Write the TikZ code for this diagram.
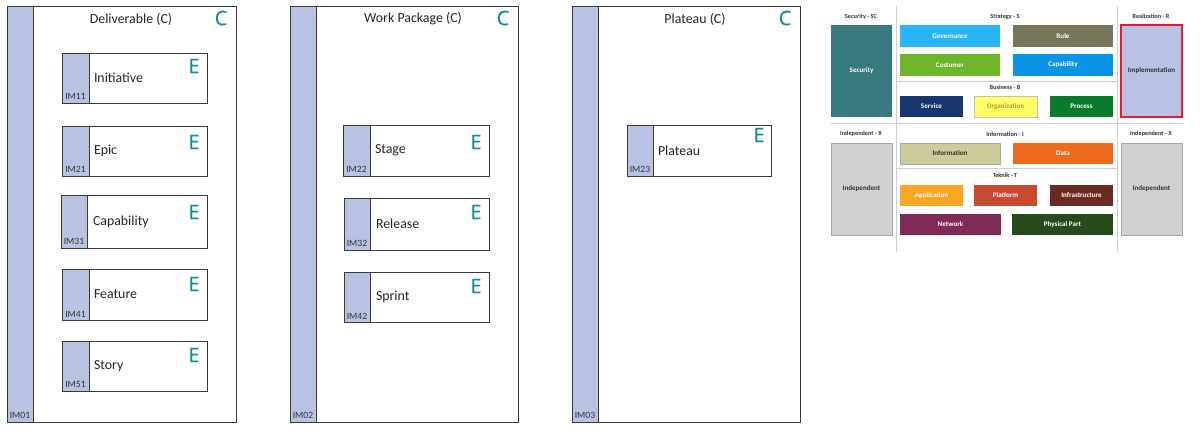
\documentclass[tikz,border=0pt]{standalone}
\usepackage{fontspec}
\setmainfont{Carlito}
\newfontfamily\letterfont[FakeBold=0.4]{Open Sans}
\usetikzlibrary{positioning}
\newcommand{\px}{0.75pt}
\definecolor{barblue}{HTML}{B9C2E2}
\definecolor{framegray}{HTML}{3A3A3A}
\definecolor{letterteal}{HTML}{0E8F9B}
\definecolor{sepgray}{HTML}{CDCFD4}

\begin{document}
\begin{tikzpicture}[x=0.75pt, y=-0.75pt,
    every node/.style={inner sep=0pt, outer sep=0pt},
    frame/.style={rectangle, draw=framegray, fill=white, line width=0.7pt, anchor=north west},
    bar/.style={rectangle, draw=framegray, fill=barblue, line width=0.7pt, anchor=north west},
    title/.style={font=\fontsize{10.4}{12}\selectfont, text=black!85},
    item/.style={font=\fontsize{10.4}{12}\selectfont, text=black!85},
    code/.style={font=\fontsize{7.2}{8}\selectfont, text=black!80},
    bigletter/.style={font=\letterfont\fontsize{15}{15}\selectfont, text=letterteal},
    head/.style={font=\bfseries\fontsize{4.7}{5.5}\selectfont, text=black!80},
    tile/.style={rectangle, anchor=north west, font=\bfseries\fontsize{5.3}{6}\selectfont, text=white},
    sep/.style={draw=sepgray, line width=0.7pt}
  ]
  \useasboundingbox (0,0) rectangle (1200,431);

  % Deliverable
  \node[frame, minimum width=229*\px, minimum height=416*\px] (deliverable) at (7,6) {};
  \node[bar, minimum width=26*\px, minimum height=416*\px] (deliverablebar) at (7,6) {};
  \node[title] (deliverabletitle) at (131,19) {Deliverable (C)};
  \node[bigletter] (deliverableC) at (221,18) {C};
  \node[code, anchor=south] (im01) at ([yshift=3*\px]deliverablebar.south) {IM01};

  \node[frame, minimum width=145*\px, minimum height=50*\px] (initiative) at (62,53) {};
  \node[bar, minimum width=27*\px, minimum height=50*\px] (initiativebar) at (62,53) {};
  \node[item, right=5*\px of initiativebar] (initiativetext) {Initiative};
  \node[bigletter] (initiativeE) at (194,66) {E};
  \node[code, anchor=south] (im11) at ([yshift=3*\px]initiativebar.south) {IM11};

  \node[frame, minimum width=145*\px, minimum height=50*\px] (epic) at (62,126) {};
  \node[bar, minimum width=27*\px, minimum height=50*\px] (epicbar) at (62,126) {};
  \node[item, right=5*\px of epicbar] (epictext) {Epic};
  \node[bigletter] (epicE) at (194,142) {E};
  \node[code, anchor=south] (im21) at ([yshift=3*\px]epicbar.south) {IM21};

  \node[frame, minimum width=146*\px, minimum height=53*\px] (capability) at (61,195) {};
  \node[bar, minimum width=26*\px, minimum height=53*\px] (capabilitybar) at (61,195) {};
  \node[item, right=6*\px of capabilitybar] (capabilitytext) {Capability};
  \node[bigletter] (capabilityE) at (194,212) {E};
  \node[code, anchor=south] (im31) at ([yshift=3*\px]capabilitybar.south) {IM31};

  \node[frame, minimum width=145*\px, minimum height=51*\px] (feature) at (62,269) {};
  \node[bar, minimum width=27*\px, minimum height=51*\px] (featurebar) at (62,269) {};
  \node[item, right=5*\px of featurebar] (featuretext) {Feature};
  \node[bigletter] (featureE) at (194,284) {E};
  \node[code, anchor=south] (im41) at ([yshift=3*\px]featurebar.south) {IM41};

  \node[frame, minimum width=145*\px, minimum height=50*\px] (story) at (62,341) {};
  \node[bar, minimum width=27*\px, minimum height=50*\px] (storybar) at (62,341) {};
  \node[item, right=5*\px of storybar] (storytext) {Story};
  \node[bigletter] (storyE) at (194,355) {E};
  \node[code, anchor=south] (im51) at ([yshift=3*\px]storybar.south) {IM51};

  % Work Package
  \node[frame, minimum width=228*\px, minimum height=416*\px] (workpackage) at (290,6) {};
  \node[bar, minimum width=26*\px, minimum height=416*\px] (workpackagebar) at (290,6) {};
  \node[title] (workpackagetitle) at (413,19) {Work Package (C)};
  \node[bigletter] (workpackageC) at (503,18) {C};
  \node[code, anchor=south] (im02) at ([yshift=3*\px]workpackagebar.south) {IM02};

  \node[frame, minimum width=146*\px, minimum height=51*\px] (stage) at (343,125) {};
  \node[bar, minimum width=27*\px, minimum height=51*\px] (stagebar) at (343,125) {};
  \node[item, right=5*\px of stagebar] (stagetext) {Stage};
  \node[bigletter] (stageE) at (476,142) {E};
  \node[code, anchor=south] (im22) at ([yshift=3*\px]stagebar.south) {IM22};

  \node[frame, minimum width=145*\px, minimum height=52*\px] (release) at (344,198) {};
  \node[bar, minimum width=26*\px, minimum height=52*\px] (releasebar) at (344,198) {};
  \node[item, right=6*\px of releasebar] (releasetext) {Release};
  \node[bigletter] (releaseE) at (476,212) {E};
  \node[code, anchor=south] (im32) at ([yshift=3*\px]releasebar.south) {IM32};

  \node[frame, minimum width=145*\px, minimum height=50*\px] (sprint) at (344,272) {};
  \node[bar, minimum width=26*\px, minimum height=50*\px] (sprintbar) at (344,272) {};
  \node[item, right=6*\px of sprintbar] (sprinttext) {Sprint};
  \node[bigletter] (sprintE) at (476,286) {E};
  \node[code, anchor=south] (im42) at ([yshift=3*\px]sprintbar.south) {IM42};

  % Plateau
  \node[frame, minimum width=228*\px, minimum height=416*\px] (plateau) at (572,6) {};
  \node[bar, minimum width=26*\px, minimum height=416*\px] (plateaubar) at (572,6) {};
  \node[title] (plateautitle) at (695,19) {Plateau (C)};
  \node[bigletter] (plateauC) at (785,18) {C};
  \node[code, anchor=south] (im03) at ([yshift=3*\px]plateaubar.south) {IM03};

  \node[frame, minimum width=144*\px, minimum height=51*\px] (plateauitem) at (627,125) {};
  \node[bar, minimum width=26*\px, minimum height=51*\px] (plateauitembar) at (627,125) {};
  \node[item, right=5*\px of plateauitembar] (plateauitemtext) {Plateau};
  \node[bigletter] (plateauitemE) at (759,135) {E};
  \node[code, anchor=south] (im23) at ([yshift=3*\px]plateauitembar.south) {IM23};

  % Metamodel overview
  \draw[sep] (896,6) -- (896,252);
  \draw[sep] (1117,6) -- (1117,252);
  \draw[sep] (830,123) -- (1182,123);
  \draw[sep] (896,81) -- (1117,81);
  \draw[sep] (896,168) -- (1117,168);

  \node[head] (securityhead) at (861,16.5) {Security - SC};
  \node[head] (strategyhead) at (1005,16.5) {Strategy - S};
  \node[head] (realizationhead) at (1151,16.5) {Realization - R};
  \node[head] (businesshead) at (1005,87) {Business - B};
  \node[head] (independenthead) at (861,134) {Independent - X};
  \node[head] (informationhead) at (1005,134) {Information - I};
  \node[head] (independenthead2) at (1151,134) {Independent - X};
  \node[head] (teknikhead) at (1005,175) {Teknik - T};

  \node[tile, fill={rgb,255:red,55;green,121;blue,124}, minimum width=61*\px, minimum height=92*\px] (security) at (831,25) {Security};
  \node[tile, fill={rgb,255:red,41;green,181;blue,246}, minimum width=100*\px, minimum height=22*\px] (governance) at (900,25) {Governance};
  \node[tile, fill={rgb,255:red,109;green,181;blue,43}, minimum width=100*\px, minimum height=22*\px] (costumer) at (900,54) {Costumer};
  \node[tile, fill={rgb,255:red,120;green,118;blue,90}, minimum width=100*\px, minimum height=22*\px] (rule) at (1013,25) {Rule};
  \node[tile, fill={rgb,255:red,10;green,148;blue,230}, minimum width=100*\px, minimum height=22*\px] (capabilitytile) at (1013,54) {Capability};
  \node[tile, fill={rgb,255:red,23;green,54;blue,111}, minimum width=63*\px, minimum height=21*\px] (service) at (900,96) {Service};
  \node[tile, draw=black!25, line width=0.3pt, fill={rgb,255:red,255;green,255;blue,102}, text={rgb,255:red,184;green,160;blue,48}, minimum width=63*\px, minimum height=21*\px] (organization) at (974,96) {Organization};
  \node[tile, fill={rgb,255:red,10;green,123;blue,44}, minimum width=63*\px, minimum height=21*\px] (process) at (1050,96) {Process};
  \node[tile, draw={rgb,255:red,224;green,32;blue,47}, line width=1.1pt, fill=barblue, text=black!80, minimum width=61*\px, minimum height=92*\px] (implementation) at (1121,25) {Implementation};

  \node[tile, draw=black!35, line width=0.4pt, fill=black!18, text=black!80, minimum width=61*\px, minimum height=92*\px] (independentleft) at (831,143) {Independent};
  \node[tile, draw=black!35, line width=0.4pt, fill={rgb,255:red,205;green,203;blue,154}, text=black!80, minimum width=100*\px, minimum height=21*\px] (information) at (900,143) {Information};
  \node[tile, fill={rgb,255:red,235;green,106;blue,30}, minimum width=100*\px, minimum height=21*\px] (data) at (1013,143) {Data};
  \node[tile, draw=black!35, line width=0.4pt, fill=black!18, text=black!80, minimum width=61*\px, minimum height=92*\px] (independentright) at (1121,143) {Independent};
  \node[tile, fill={rgb,255:red,251;green,165;blue,36}, minimum width=63*\px, minimum height=21*\px] (application) at (900,185) {Application};
  \node[tile, fill={rgb,255:red,200;green,75;blue,49}, minimum width=63*\px, minimum height=21*\px] (platform) at (974,185) {Platform};
  \node[tile, fill={rgb,255:red,107;green,42;blue,32}, minimum width=63*\px, minimum height=21*\px] (infrastructure) at (1050,185) {Infrastructure};
  \node[tile, fill={rgb,255:red,127;green,42;blue,85}, minimum width=101*\px, minimum height=21*\px] (network) at (900,214) {Network};
  \node[tile, fill={rgb,255:red,37;green,74;blue,27}, minimum width=101*\px, minimum height=21*\px] (physicalpart) at (1012,214) {Physical Part};
\end{tikzpicture}
\end{document}
